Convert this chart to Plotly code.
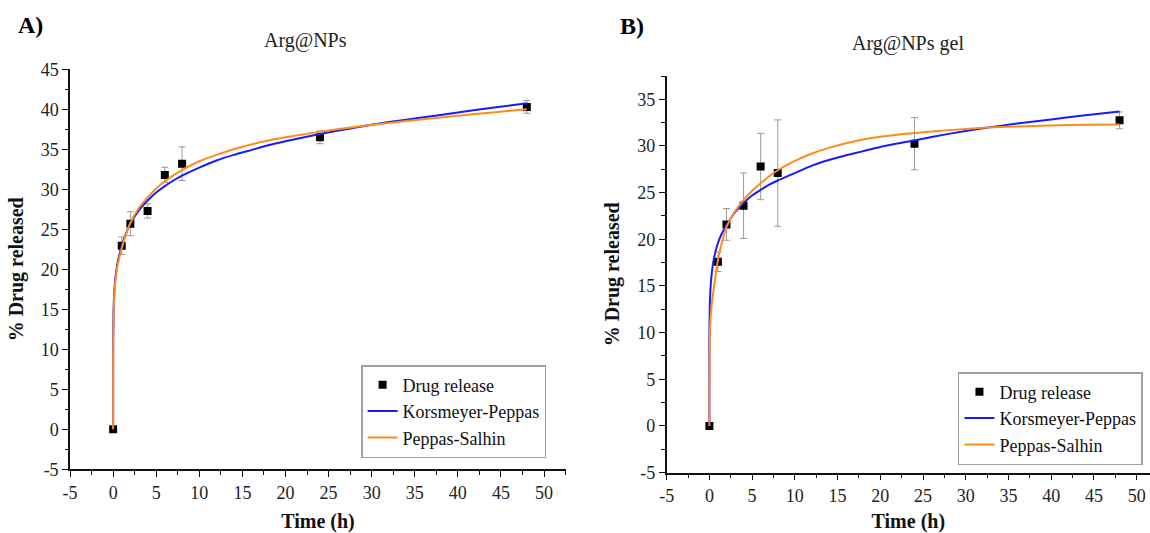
import plotly.graph_objects as go

# ---------------- data ----------------
time_h = [0, 1, 2, 4, 6, 8, 24, 48]

np_release = [0, 22.95, 25.7, 27.3, 31.8, 33.2, 36.5, 40.3]
np_err = [0, 1.1, 1.5, 0.9, 0.95, 2.1, 0.8, 0.8]

gel_release = [0, 17.6, 21.6, 23.6, 27.8, 27.1, 30.25, 32.75]
gel_err = [0, 1.05, 1.7, 3.5, 3.55, 5.7, 2.8, 0.9]

fit_t = [0, 0.001, 0.01, 0.05, 0.1, 0.25, 0.5, 1, 1.5, 2, 3, 4, 5, 6, 7, 8, 10, 12, 14, 16, 18, 20, 24, 28, 32, 36, 40, 44, 48]

np_kp = [0, 8.0, 11.5, 14.8, 16.5, 18.8, 20.7, 22.9, 24.5, 25.7, 27.4, 28.6, 29.6, 30.4, 31.1, 31.7, 32.7, 33.6, 34.3, 34.9, 35.5, 36.0, 36.9, 37.7, 38.4, 39.0, 39.6, 40.2, 40.75]
np_ps = [0, 5.5, 10.0, 13.8, 15.8, 18.4, 20.4, 22.6, 24.4, 25.8, 27.7, 29.0, 30.1, 31.0, 31.75, 32.4, 33.5, 34.3, 35.0, 35.6, 36.1, 36.5, 37.2, 37.8, 38.3, 38.75, 39.2, 39.6, 40.0]

gel_kp = [0, 7.5, 10.3, 12.9, 14.2, 16.1, 17.8, 19.6, 20.7, 21.5, 22.9, 23.9, 24.7, 25.3, 25.85, 26.3, 27.1, 27.9, 28.5, 29.0, 29.45, 29.9, 30.6, 31.3, 31.9, 32.4, 32.85, 33.3, 33.7]
gel_ps = [0, 3.0, 6.0, 9.5, 11.0, 12.8, 14.6, 17.8, 19.8, 21.3, 23.0, 24.2, 25.2, 26.0, 26.75, 27.4, 28.4, 29.2, 29.8, 30.3, 30.7, 31.0, 31.4, 31.7, 31.95, 32.1, 32.2, 32.27, 32.3]

x_ticks = [-5, 0, 5, 10, 15, 20, 25, 30, 35, 40, 45, 50]
x_tick_text = ["-5", "0", "5", "10", "15", "20", "25", "30", "35", "40", "45", "50"]
y_ticks_a = [-5, 0, 5, 10, 15, 20, 25, 30, 35, 40, 45]
y_ticks_b = [-5, 0, 5, 10, 15, 20, 25, 30, 35]

series_names = ["Drug release", "Korsmeyer-Peppas", "Peppas-Salhin"]
panel_titles = ["Arg@NPs", "Arg@NPs gel"]
panel_labels = ["A)", "B)"]

# ---------------- styling ----------------
FONT = "Liberation Serif"
BLUE = "#1a1aff"
ORANGE = "#ff8c1a"
ERR = "#9a9a9a"

fig = go.Figure()


def add_panel(xa, ya, rel, err, kp, ps, legend):
    fig.add_trace(go.Scatter(
        x=time_h, y=rel, mode="markers", name=series_names[0],
        marker=dict(symbol="square", size=8, color="black"),
        error_y=dict(type="data", array=err, visible=True, color=ERR, thickness=1, width=3.5),
        xaxis=xa, yaxis=ya, legend=legend))
    fig.add_trace(go.Scatter(
        x=fit_t, y=kp, mode="lines", name=series_names[1],
        line=dict(color=BLUE, width=2, shape="spline", smoothing=0.6),
        xaxis=xa, yaxis=ya, legend=legend))
    fig.add_trace(go.Scatter(
        x=fit_t, y=ps, mode="lines", name=series_names[2],
        line=dict(color=ORANGE, width=2, shape="spline", smoothing=0.6),
        xaxis=xa, yaxis=ya, legend=legend))


add_panel("x", "y", np_release, np_err, np_kp, np_ps, "legend")
add_panel("x2", "y2", gel_release, gel_err, gel_kp, gel_ps, "legend2")

axis_common = dict(
    showline=True, linecolor="#111", linewidth=1.6, mirror=False,
    showgrid=False, zeroline=False, ticks="outside", ticklen=6, tickwidth=1.4,
    tickcolor="#111", tickfont=dict(family=FONT, size=18, color="#222"),
    automargin=False,
)
minor = dict(ticks="outside", ticklen=3.5, tickwidth=1.2, tickcolor="#111", dtick=2.5, tick0=0, showgrid=False)

title_font = dict(family=FONT, size=20, color="#111")

fig.update_layout(
    width=1150, height=533,
    margin=dict(l=0, r=0, t=0, b=0),
    paper_bgcolor="white", plot_bgcolor="white",
    showlegend=True,
    xaxis=dict(axis_common, domain=[0.0609, 0.4922], range=[-5, 52.55], anchor="y",
               tickmode="array", tickvals=x_ticks, ticktext=x_tick_text, minor=minor,
               title=dict(text="<b>Time (h)</b>", font=title_font, standoff=14)),
    yaxis=dict(axis_common, domain=[0.1195, 0.870], range=[-5, 45], anchor="x",
               tickmode="array", tickvals=y_ticks_a, ticktext=[str(v) for v in y_ticks_a], minor=minor,
               title=dict(text="<b>% Drug released</b>", font=title_font, standoff=12)),
    xaxis2=dict(axis_common, domain=[0.5797, 1.0], range=[-5, 51.56], anchor="y2",
                tickmode="array", tickvals=x_ticks, ticktext=x_tick_text, minor=minor,
                title=dict(text="<b>Time (h)</b>", font=title_font, standoff=14)),
    yaxis2=dict(axis_common, domain=[0.1133, 0.8574], range=[-5, 37.5], anchor="x2",
                tickmode="array", tickvals=y_ticks_b, ticktext=[str(v) for v in y_ticks_b], minor=minor,
                title=dict(text="<b>% Drug released</b>", font=title_font, standoff=12)),
    legend=dict(x=0.314, y=1 - 365 / 533, xanchor="left", yanchor="top",
                bgcolor="white", bordercolor="#a0a0a0", borderwidth=1.5,
                font=dict(family=FONT, size=18, color="#111"), tracegroupgap=0, itemwidth=30),
    legend2=dict(x=0.833, y=1 - 372 / 533, xanchor="left", yanchor="top",
                 bgcolor="white", bordercolor="#a0a0a0", borderwidth=1.5,
                 font=dict(family=FONT, size=18, color="#111"), tracegroupgap=0, itemwidth=30),
    annotations=[
        dict(text=f"<b>{panel_labels[0]}</b>", x=16 / 1150, y=1 - 25 / 533, xref="paper", yref="paper",
             xanchor="left", yanchor="middle", showarrow=False, font=dict(family=FONT, size=24, color="black")),
        dict(text=f"<b>{panel_labels[1]}</b>", x=618 / 1150, y=1 - 26 / 533, xref="paper", yref="paper",
             xanchor="left", yanchor="middle", showarrow=False, font=dict(family=FONT, size=24, color="black")),
        dict(text=panel_titles[0], x=305 / 1150, y=1 - 40 / 533, xref="paper", yref="paper",
             xanchor="center", yanchor="middle", showarrow=False, font=dict(family=FONT, size=20, color="#222")),
        dict(text=panel_titles[1], x=908 / 1150, y=1 - 43 / 533, xref="paper", yref="paper",
             xanchor="center", yanchor="middle", showarrow=False, font=dict(family=FONT, size=20, color="#222")),
    ],
)

fig.write_html("out.html")
